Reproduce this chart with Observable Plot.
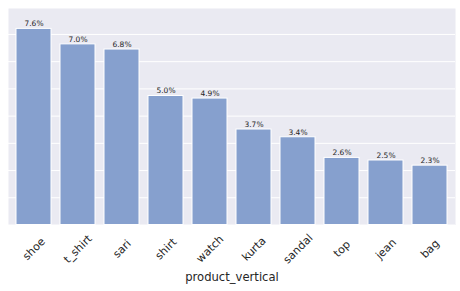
<!DOCTYPE html>
<html><head><meta charset="utf-8">
<script src="https://cdn.jsdelivr.net/npm/d3@7"></script>
<script src="https://cdn.jsdelivr.net/npm/@observablehq/plot@0.6"></script>
<style>body{margin:0;background:#fff;} svg{display:block;}</style>
</head><body><div id="chart"></div>
<script>
const categories = ["shoe","t_shirt","sari","shirt","watch","kurta","sandal","top","jean","bag"];
const shares = [7.6, 7.0, 6.8, 5.0, 4.9, 3.7, 3.4, 2.6, 2.5, 2.3];
const labels = ["7.6%","7.0%","6.8%","5.0%","4.9%","3.7%","3.4%","2.6%","2.5%","2.3%"];
const yGrid = [0, 1.055, 2.11, 3.165, 4.22, 5.275, 6.33, 7.385];
const xTitle = "product_vertical";

const data = categories.map((c, i) => ({cat: c, v: shares[i], lab: labels[i]}));

const chart = Plot.plot({
  width: 460, height: 291,
  marginLeft: 8, marginRight: 5, marginTop: 8, marginBottom: 66.5,
  style: {fontFamily: "DejaVu Sans, sans-serif", background: "#fff"},
  x: {domain: categories, paddingInner: 0.2, paddingOuter: 0.1, axis: null},
  y: {domain: [0, 8.39], axis: null},
  marks: [
    Plot.frame({fill: "#EAEAF2", stroke: null}),
    Plot.ruleY(yGrid, {stroke: "#fff", strokeWidth: 1}),
    Plot.barY(data, {x: "cat", y: "v", fill: "#86A0CE", stroke: "#fff", strokeWidth: 1}),
    Plot.text(data, {x: "cat", y: "v", text: "lab", lineAnchor: "bottom", dy: -2.5, fontSize: 7.5, fill: "#262626"}),
    Plot.text(data, {x: "cat", y: () => 0, text: "cat", rotate: -45, textAnchor: "middle", lineAnchor: "middle", dy: 24, fontSize: 11, fill: "#262626"}),
    Plot.text([xTitle], {frameAnchor: "bottom", dy: 52.5, lineAnchor: "middle", text: d => d, fontSize: 11.6, fill: "#262626"})
  ]
});
document.getElementById("chart").appendChild(chart);
</script>
</body></html>
